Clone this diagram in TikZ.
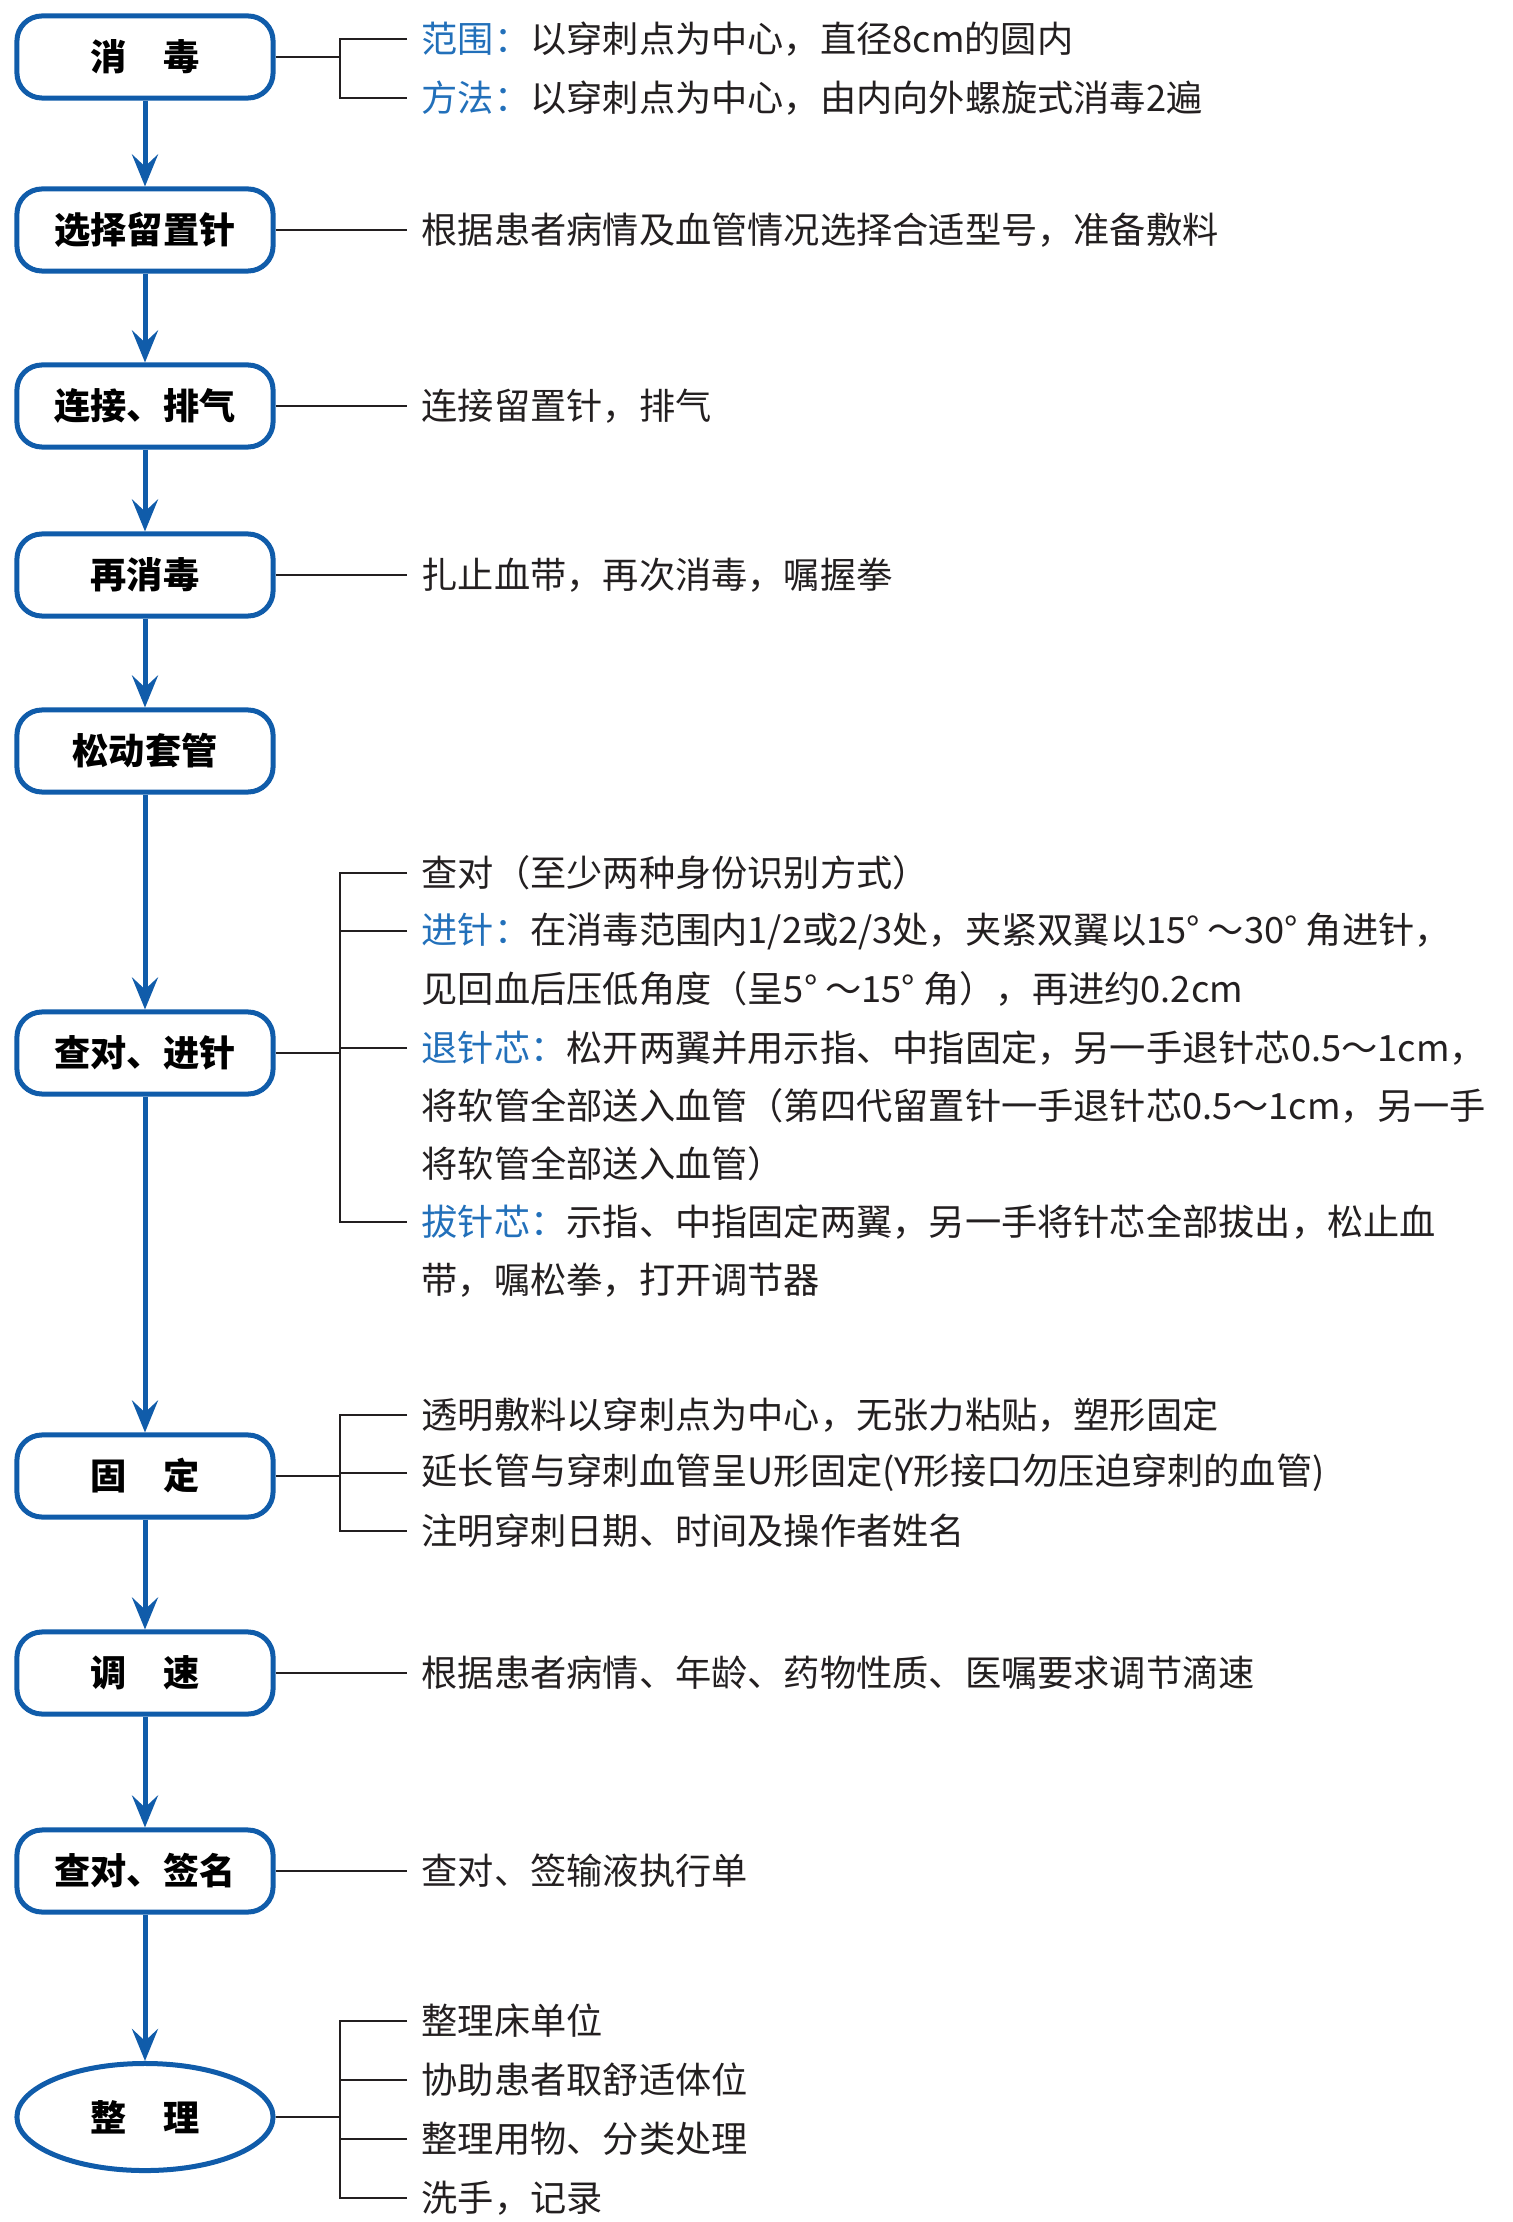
\documentclass[tikz,border=0pt]{standalone}
\usepackage{fontspec}
\setmainfont{Noto Sans CJK SC}
\usepackage{xcolor}
\usetikzlibrary{arrows.meta, positioning, shapes.geometric}
\definecolor{boxblue}{RGB}{16,92,170}
\definecolor{labblue}{RGB}{34,112,186}
\definecolor{txtgray}{RGB}{35,31,32}
\tikzset{
    every node/.style={font=\fontsize{10.3}{12}\selectfont},
    stepbox/.style={draw=boxblue, line width=0.05cm, rounded corners=0.25cm,
        minimum width=2.56cm, minimum height=0.82cm, inner sep=0pt,
        font=\fontsize{10.3}{12}\selectfont\bfseries},
    endbox/.style={ellipse, draw=boxblue, line width=0.05cm,
        minimum width=2.56cm, minimum height=1.07cm, inner sep=0pt,
        font=\fontsize{10.3}{12}\selectfont\bfseries},
    flow/.style={draw=boxblue, line width=0.05cm,
        -{Stealth[length=0.32cm, width=0.26cm, inset=0.12cm]}},
    link/.style={draw=txtgray, line width=0.025cm},
    note/.style={anchor=west, inner xsep=0.14cm, inner ysep=0pt, text=txtgray}
}
\newcommand{\lab}[1]{\textcolor{labblue}{#1}}

\begin{document}
\begin{tikzpicture}[x=0.01cm, y=-0.01cm]
    \useasboundingbox (0,0) rectangle (1513,2222);

    % steps
    \node[stepbox] (xd) at (145,57) {消\hspace{1em}毒};
    \node[stepbox] (xz) at (145,230) {选择留置针};
    \node[stepbox] (lj) at (145,406) {连接、排气};
    \node[stepbox] (zx) at (145,575) {再消毒};
    \node[stepbox] (sd) at (145,751) {松动套管};
    \node[stepbox] (jz) at (145,1053) {查对、进针};
    \node[stepbox] (gd) at (145,1476) {固\hspace{1em}定};
    \node[stepbox] (ts) at (145,1673) {调\hspace{1em}速};
    \node[stepbox] (qm) at (145,1871) {查对、签名};
    \node[endbox] (zl) at (145,2117) {整\hspace{1em}理};

    \foreach \a/\b in {xd/xz, xz/lj, lj/zx, zx/sd, sd/jz, jz/gd, gd/ts, ts/qm, qm/zl}
        \draw[flow] (\a) -- (\b);

    % notes
    \node[note] (n1) at (407,39) {\lab{范围：}以穿刺点为中心，直径8cm的圆内};
    \node[note] (n2) at (407,98) {\lab{方法：}以穿刺点为中心，由内向外螺旋式消毒2遍};
    \node[note] (n3) at (407,230) {根据患者病情及血管情况选择合适型号，准备敷料};
    \node[note] (n4) at (407,406) {连接留置针，排气};
    \node[note] (n5) at (407,575) {扎止血带，再次消毒，嘱握拳};
    \node[note] (n6) at (407,873) {查对（至少两种身份识别方式）};
    \node[note] (n7) at (407,931) {\lab{进针：}在消毒范围内1/2或2/3处，夹紧双翼以15° ～30° 角进针，};
    \node[note] (n7b) at (407,989) {见回血后压低角度（呈5° ～15° 角），再进约0.2cm};
    \node[note] (n8) at (407,1048) {\lab{退针芯：}松开两翼并用示指、中指固定，另一手退针芯0.5～1cm，};
    \node[note] (n8b) at (407,1106) {将软管全部送入血管（第四代留置针一手退针芯0.5～1cm，另一手};
    \node[note] (n8c) at (407,1164) {将软管全部送入血管）};
    \node[note] (n9) at (407,1222) {\lab{拔针芯：}示指、中指固定两翼，另一手将针芯全部拔出，松止血};
    \node[note] (n9b) at (407,1280) {带，嘱松拳，打开调节器};
    \node[note] (n10) at (407,1415) {透明敷料以穿刺点为中心，无张力粘贴，塑形固定};
    \node[note] (n11) at (407,1473) {延长管与穿刺血管呈U形固定(Y形接口勿压迫穿刺的血管)};
    \node[note] (n12) at (407,1531) {注明穿刺日期、时间及操作者姓名};
    \node[note] (n13) at (407,1673) {根据患者病情、年龄、药物性质、医嘱要求调节滴速};
    \node[note] (n14) at (407,1871) {查对、签输液执行单};
    \node[note] (n15) at (407,2021) {整理床单位};
    \node[note] (n16) at (407,2080) {协助患者取舒适体位};
    \node[note] (n17) at (407,2139) {整理用物、分类处理};
    \node[note] (n18) at (407,2198) {洗手，记录};

    \coordinate (brk) at (340,0);

    \draw[link] (xd.east) -- (xd.east -| brk);
    \draw[link] (n1.west) -- (n1.west -| brk) -- (n2.west -| brk) -- (n2.west);

    \foreach \a/\b in {xz/n3, lj/n4, zx/n5, ts/n13, qm/n14}
        \draw[link] (\a.east) -- (\b.west);

    \draw[link] (jz.east) -- (jz.east -| brk);
    \draw[link] (n6.west) -- (n6.west -| brk) -- (n9.west -| brk) -- (n9.west);
    \draw[link] (n7.west) -- (n7.west -| brk);
    \draw[link] (n8.west) -- (n8.west -| brk);

    \draw[link] (gd.east) -- (gd.east -| brk);
    \draw[link] (n10.west) -- (n10.west -| brk) -- (n12.west -| brk) -- (n12.west);
    \draw[link] (n11.west) -- (n11.west -| brk);

    \draw[link] (zl.east) -- (zl.east -| brk);
    \draw[link] (n15.west) -- (n15.west -| brk) -- (n18.west -| brk) -- (n18.west);
    \draw[link] (n16.west) -- (n16.west -| brk);
    \draw[link] (n17.west) -- (n17.west -| brk);
\end{tikzpicture}
\end{document}
